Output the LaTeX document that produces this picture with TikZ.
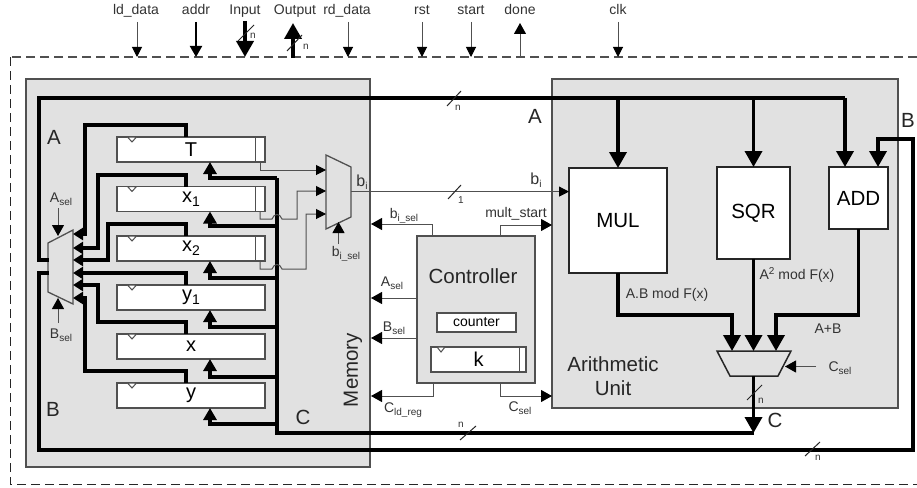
\documentclass[tikz,border=0pt]{standalone}
\usepackage{fontspec}
\setmainfont{Liberation Sans}
\usetikzlibrary{arrows.meta,calc}
\newcommand\sbs[1]{\raisebox{-2.5pt}{\fontsize{10}{10}\selectfont #1}}
\newcommand\sbr[1]{\raisebox{-4pt}{\fontsize{14}{14}\selectfont #1}}
\newcommand\fsz[1]{\fontsize{#1}{#1}\selectfont}
\definecolor{panel}{HTML}{E1E1E1}
\definecolor{wire}{HTML}{505050}
\tikzset{
  panelbox/.style={draw=wire,line width=1.3pt,fill=panel,inner sep=0pt,outer sep=0pt},
  unitbox/.style={draw=black!85,line width=1.5pt,fill=white,inner sep=0pt,outer sep=0pt,font=\fsz{20.5}},
  regbox/.style={draw=wire,line width=1.2pt,fill=white,inner sep=0pt,outer sep=0pt,minimum width=148pt,minimum height=25pt,font=\fsz{20}},
  lab/.style={inner sep=0pt,font=\fsz{14},text=black!80},
  biglab/.style={inner sep=0pt,font=\fsz{20.5},text=black!85},
  tiny/.style={inner sep=0pt,font=\fsz{10},text=black!80},
  wireline/.style={draw=wire,line width=1pt},
  ctrl/.style={wireline,-{Triangle[length=10pt,width=10pt,color=black,fill=black]}},
  ctrlbig/.style={wireline,-{Triangle[length=11pt,width=12pt,color=black,fill=black]}},
  bus/.style={draw=black,line width=3.6pt},
  busbig/.style={bus,-{Triangle[length=16pt,width=17pt]}},
  busreg/.style={bus,-{Triangle[length=12pt,width=13pt]}},
  busmux/.style={bus,-{Triangle[length=10pt,width=12pt]}},
  slash/.style={draw=black!85,line width=1pt},
}
\begin{document}
\begin{tikzpicture}[x=1pt,y=-1pt]
\useasboundingbox (0,0) rectangle (917,487);
\fill[white] (0,0) rectangle (917,487);
% outer boundary
\draw[draw=wire,line width=1.6pt,dash pattern=on 9pt off 5pt] (917,57) -- (10,57);
\draw[draw=black!85,line width=1pt,dash pattern=on 9pt off 5pt] (10,57) -- (10,484) -- (917,484);
% panels
\node[panelbox,minimum width=344pt,minimum height=388pt] (memory) at (198,273) {};
\node[panelbox,minimum width=346pt,minimum height=329pt] (arith) at (725,243.5) {};
\node[panelbox,minimum width=118pt,minimum height=147pt] (ctrlbox) at (476,309.5) {};
% units
\node[unitbox,minimum width=98pt,minimum height=105pt] (MUL) at (618,220.5) {MUL};
\node[unitbox,minimum width=73pt,minimum height=92pt] (SQR) at (753.5,213) {SQR};
\node[unitbox,minimum width=59pt,minimum height=62pt] (ADD) at (858.5,198) {ADD};
% registers
\foreach \n/\c/\t in {T/149.5/T,xa/199/x\sbr{1},xb/248.5/x\sbr{2},ya/297.5/y\sbr{1},xx/346.5/x,yy/395.5/y}{
  \node[regbox] (reg\n) at (191,\c) {\t};
  \draw[draw=wire,line width=1pt,fill=white] ($(reg\n.north)+(-63.5,0)$) -- ++(9,0) -- ++(-4.5,5) -- cycle;
  \coordinate (out\n) at ($(reg\n.north)+(-5,0)$);
  \coordinate (in\n) at ($(reg\n.south)+(19,0)$);
}
\foreach \n in {T,xa,xb}{
  \draw[wireline] ($(reg\n.north east)+(-10,0)$) -- ($(reg\n.south east)+(-10,0)$);
  \coordinate (bit\n) at ($(reg\n.south east)+(-5,0)$);
}
% controller internals
\node[lab,draw=wire,line width=1.2pt,fill=white,minimum width=79pt,minimum height=19pt,text=black] (counter) at (476.5,322.5) {counter};
\node[regbox,minimum width=95pt] (regk) at (478.5,359.5) {k};
\draw[wireline] ($(regk.north east)+(-7,0)$) -- ($(regk.south east)+(-7,0)$);
\draw[draw=wire,line width=1pt,fill=white] ($(regk.north west)+(6,0)$) -- ++(8,0) -- ++(-4,5) -- cycle;
\node[biglab] (ctrllab) at (473,276) {Controller};
% muxes
\coordinate (m1) at (48,243); \coordinate (m2) at (73,230); \coordinate (m3) at (73,304); \coordinate (m4) at (48,292);
\draw[draw=wire,line width=1.3pt,fill=panel] (m1) -- (m2) -- (m3) -- (m4) -- cycle;
\coordinate (b1) at (326,155); \coordinate (b2) at (351,167); \coordinate (b3) at (351,217); \coordinate (b4) at (326,229);
\draw[draw=wire,line width=1.3pt,fill=panel] (b1) -- (b2) -- (b3) -- (b4) -- cycle;
\coordinate (c1) at (717,351); \coordinate (c2) at (791,351); \coordinate (c3) at (778,376); \coordinate (c4) at (730,376);
\draw[draw=black!85,line width=1.5pt,fill=panel] (c1) -- (c2) -- (c3) -- (c4) -- cycle;
% bus A
\coordinate (aIn) at (49,260); \coordinate (aEnd) at (845,167);
\draw[bus] (aIn) -- (39,260) -- (39,98) -- (845,98);
\draw[busbig] (MUL.north |- 0,98) -- (MUL.north);
\draw[busbig] (SQR.north |- 0,98) -- (SQR.north);
\draw[busbig] (845,98) -- (aEnd);
% bus B
\coordinate (bIn) at (49,273); \coordinate (bEnd) at (878,167);
\draw[busbig] (bIn) -- (39,273) -- (39,450) -- (913,450) -- (913,139) -- (878,139) -- (bEnd);
% bus C
\coordinate (cOut) at (753.5,376);
\coordinate (cEnd) at (753.5,433);
\draw[busbig] (cOut) -- (cEnd);
\draw[bus] (cEnd) -- (277,433) -- (277,178);
\foreach \n/\y in {T/178,xa/226,xb/278,ya/327,xx/377,yy/424}{
  \draw[busreg] (277,\y) -- (210,\y) -- (in\n);
}
% register outputs to operand mux
\draw[busmux] (outT) -- (186,125) -- (85,125) -- (85,234) -- (73,234);
\draw[busmux] (outxa) -- (186,175) -- (98,175) -- (98,248) -- (73,248);
\draw[busmux] (outxb) -- (186,224) -- (108,224) -- (108,260) -- (73,260);
\draw[busmux] (outya) -- (186,273) -- (73,273);
\draw[busmux] (outxx) -- (186,322) -- (98,322) -- (98,285) -- (73,285);
\draw[busmux] (outyy) -- (186,371) -- (85,371) -- (85,298) -- (73,298);
% unit outputs to result mux
\draw[busbig] (MUL.south) -- (618,315) -- (732,315) -- (732,351);
\draw[busbig] (SQR.south) -- (753.5,351);
\draw[busbig] (ADD.south) -- (858.5,315) -- (776,315) -- (776,351);
% bit wires
\draw[ctrl] (bitT) -- (260,170) -- (326,170);
\draw[ctrl] (bitxa) -- (260,219) -- (272,219) .. controls (274,213) and (280,213) .. (282,219) -- (297,219) -- (297,191) -- (326,191);
\draw[ctrl] (bitxb) -- (260,269) -- (272,269) .. controls (274,263) and (280,263) .. (282,269) -- (306,269) -- (306,214) -- (326,214);
\coordinate (bOut) at (351,191.6);
\draw[ctrl] (bOut) -- (MUL.west |- bOut);
% select wires
\coordinate (aselT) at (58,208); \coordinate (aselE) at (58,236);
\draw[ctrlbig] (aselT) -- (aselE);
\coordinate (bselT) at (58,323); \coordinate (bselE) at (58,298);
\draw[ctrlbig] (bselT) -- (bselE);
\coordinate (bisT) at (338.5,244); \coordinate (bisE) at (338.5,222);
\draw[ctrlbig] (bisT) -- (bisE);
\coordinate (cselT) at (816,366.5); \coordinate (cselE) at (785,366.5);
\draw[ctrlbig] (cselT) -- (cselE);
% controller wires
\draw[ctrlbig] (ctrlbox.north -| 432,0) -- (432,224) -- (371,224);
\draw[ctrlbig] (ctrlbox.west |- 0,298) -- (371,298);
\draw[ctrlbig] (ctrlbox.west |- 0,338) -- (371,338);
\draw[ctrlbig] (ctrlbox.south -| 433,0) -- (433,396) -- (371,396);
\draw[ctrlbig] (ctrlbox.north -| 500,0) -- (500,225) -- (arith.west |- 0,225);
\draw[ctrlbig] (ctrlbox.south -| 500,0) -- (500,396) -- (arith.west |- 0,396);
% external ports
\foreach \n/\x/\t/\lx in {ld/137/ld\_data/136,rd/348/rd\_data/347,rst/422/rst/422,st/471/start/471,clk/618/clk/618}{
  \node[lab,anchor=base] (p\n) at (\lx,15) {\t};
  \coordinate (e\n) at (\x,57);
  \draw[ctrl] (\x,22) -- (e\n);
}
\node[lab,anchor=base] (paddr) at (196,15) {addr};
\coordinate (eaddr) at (196,57);
\draw[draw=black,line width=2pt,-{Triangle[length=11pt,width=12pt]}] (196,22) -- (eaddr);
\node[lab,anchor=base] (pin) at (245,15) {Input};
\coordinate (ein) at (245,57);
\draw[busbig] (245,21) -- (ein);
\node[lab,anchor=base] (pout) at (295,15) {Output};
\coordinate (eout) at (293,58);
\draw[busbig] (eout) -- (293,23);
\node[lab,anchor=base] (pdone) at (520,15) {done};
\coordinate (edone) at (520,57);
\draw[ctrlbig] (edone) -- (520,23);
% width slashes
\draw[slash] (238,41) -- (254,25);
\draw[slash] (287,51) -- (302,35);
\draw[slash] (447,106) -- (461,91);
\draw[slash] (448,199) -- (461,185);
\draw[slash] (460,440) -- (476,426);
\draw[slash] (805,456) -- (820,442);
\draw[slash] (747,400) -- (762,385);
\node[tiny] (n1) at (253,36) {n};
\node[tiny] (n2) at (306,47) {n};
\node[tiny] (n3) at (458,108) {n};
\node[tiny] (n4) at (461,200) {1};
\node[tiny] (n5) at (461,425) {n};
\node[tiny] (n6) at (818,458) {n};
\node[tiny] (n7) at (761,401) {n};
% bus names
\node[biglab] (lA1) at (54,137) {A};
\node[biglab] (lA2) at (535,116) {A};
\node[biglab] (lB1) at (53,409) {B};
\node[biglab] (lB2) at (908,120) {B};
\node[biglab] (lC1) at (303,417) {C};
\node[biglab] (lC2) at (775,420) {C};
\node[biglab,rotate=90] (lmem) at (353,370) {Memory};
\node[biglab,align=center] (lau) at (613,376) {Arithmetic\\[3pt]Unit};
% signal labels
\node[lab] (lasel) at (61,199) {A\sbs{sel}};
\node[lab] (lbsel) at (61,335) {B\sbs{sel}};
\node[lab] (lbis) at (346,254) {b\sbs{i\_sel}};
\node[lab] (lbis2) at (404,216) {b\sbs{i\_sel}};
\node[lab] (lasel2) at (392,283) {A\sbs{sel}};
\node[lab] (lbsel2) at (394,328) {B\sbs{sel}};
\node[lab] (lcld) at (403,410) {C\sbs{ld\_reg}};
\node[lab] (lms) at (516,214) {mult\_start};
\node[lab] (lcs) at (520,408) {C\sbs{sel}};
\node[lab] (lcs2) at (840,368) {C\sbs{sel}};
\node[lab,font=\fsz{16}] (lbi) at (362,182) {b\sbs{i}};
\node[lab,font=\fsz{16}] (lbi2) at (536,180) {b\sbs{i}};
\node[lab] (lab1) at (667,295) {A.B mod F(x)};
\node[lab] (lab2) at (797,275) {A\raisebox{5pt}{\fsz{10}2} mod F(x)};
\node[lab] (lab3) at (828,329) {A+B};
\end{tikzpicture}
\end{document}
